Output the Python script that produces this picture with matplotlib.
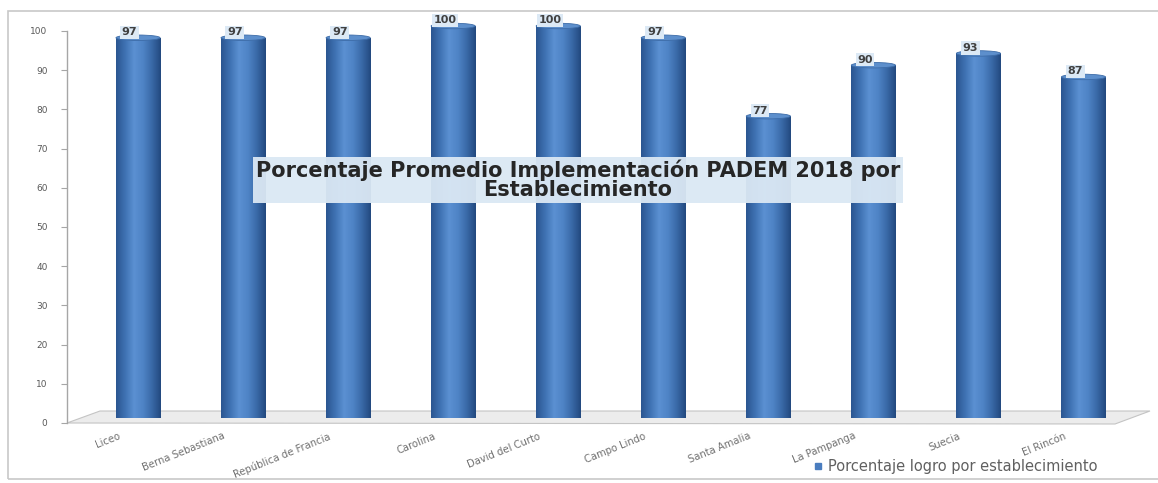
import matplotlib
matplotlib.use("Agg")
import matplotlib.pyplot as plt
import numpy as np
from matplotlib.patches import Polygon, Rectangle, Ellipse
from matplotlib.transforms import offset_copy, ScaledTranslation
from matplotlib.colors import LinearSegmentedColormap

categories = ["Liceo", "Berna Sebastiana", "República de Francia", "Carolina",
              "David del Curto", "Campo Lindo", "Santa Amalia", "La Pampanga",
              "Suecia", "El Rincón"]
values = [97, 97, 97, 100, 100, 97, 77, 90, 93, 87]
series_name = "Porcentaje logro por establecimiento"
title = "Porcentaje Promedio Implementación PADEM 2018 por\nEstablecimiento"
yticks = list(range(0, 101, 10))

W, H = 1158, 483
fig = plt.figure(figsize=(W / 100, H / 100), dpi=100)
fig.patch.set_facecolor("white")

def fx(px):
    return px / W

def fy(py):
    return 1 - py / H

# outer frame
fig.add_artist(Rectangle((fx(8), fy(479)), fx(1160) - fx(8), fy(11) - fy(479),
                         transform=fig.transFigure, fill=False,
                         edgecolor="#c8c8c8", lw=1.2))

# floor (3D look)
floor = Polygon([(fx(67), fy(423)), (fx(1115), fy(424)), (fx(1150), fy(411)), (fx(100), fy(411))],
                closed=True, transform=fig.transFigure, facecolor="#ececec",
                edgecolor="#c4c4c4", lw=0.8, zorder=0)
fig.add_artist(floor)

ax = fig.add_axes([fx(67), 1 - 423 / H, fx(1136) - fx(67), 392 / H])
ax.set_facecolor("none")
ax.set_xlim(-0.676, len(categories) - 0.5)
ax.set_ylim(0, 100)

x = np.arange(len(categories))
depth = offset_copy(ax.transData, fig=fig, x=0, y=5, units="dots")

bars = ax.bar(x, values, width=0.42, color="#4a7dbf", zorder=3, transform=depth,
              clip_on=False)

cmap = LinearSegmentedColormap.from_list(
    "cyl", ["#2b5691", "#3f72b3", "#5b90d2", "#4f84c6", "#3a6aa8", "#234a80"])
grad = np.linspace(0, 1, 64).reshape(1, -1)
for b in bars:
    x0, w, h = b.get_x(), b.get_width(), b.get_height()
    im = ax.imshow(grad, cmap=cmap, aspect="auto", extent=(x0, x0 + w, 0, h),
                   zorder=3.5, transform=depth, clip_on=True)
    im.set_clip_path(b)
    cap = Ellipse((x0 + w / 2, h), w, 1.4, facecolor="#5d8fcc", edgecolor="#3d6ca8",
                  lw=0.6, transform=depth, zorder=4, clip_on=False)
    ax.add_patch(cap)

for xi, v in zip(x, values):
    ax.annotate(f"{v}", (xi, v), xytext=(-6, 4), textcoords="offset points",
                ha="center", va="bottom", fontsize=8, fontweight="bold", color="#404040",
                bbox=dict(boxstyle="square,pad=0.15", facecolor="#dce9f5", edgecolor="none"),
                zorder=6, annotation_clip=False)

ax.set_xlim(-0.676, len(categories) - 0.5)
ax.set_ylim(0, 100)

for s in ["top", "right", "bottom"]:
    ax.spines[s].set_visible(False)
ax.spines["left"].set_color("#a6a6a6")
ax.spines["left"].set_linewidth(1.0)

ax.set_yticks(yticks)
ax.set_yticklabels([str(t) for t in yticks])
ax.tick_params(axis="y", length=4, color="#a6a6a6", pad=10, labelsize=6.5,
               labelcolor="#595959")

ax.set_xticks(x)
ax.set_xticklabels(categories, rotation=22, ha="right", va="top",
                   rotation_mode="anchor", fontsize=7.2, color="#707070")
ax.tick_params(axis="x", length=0, pad=0)
shift = ScaledTranslation(-20 / 100, -8 / 100, fig.dpi_scale_trans)
for lab in ax.get_xticklabels():
    lab.set_transform(lab.get_transform() + shift)

# title box
fig.text(fx(578), fy(180), title, ha="center", va="center", fontsize=15,
         fontweight="bold", color="#262626", linespacing=0.92,
         bbox=dict(boxstyle="square,pad=0.12", facecolor="#dbe8f4", edgecolor="none",
                   alpha=0.95), zorder=10)

# legend
fig.lines.append(plt.Line2D([fx(818)], [fy(466)], marker="s", markersize=5,
                            color="#4a7dbf", linestyle="none", transform=fig.transFigure))
fig.text(fx(828), fy(466), series_name, ha="left", va="center", fontsize=10.5,
         color="#606060")

fig.savefig("out.png", dpi=100)
